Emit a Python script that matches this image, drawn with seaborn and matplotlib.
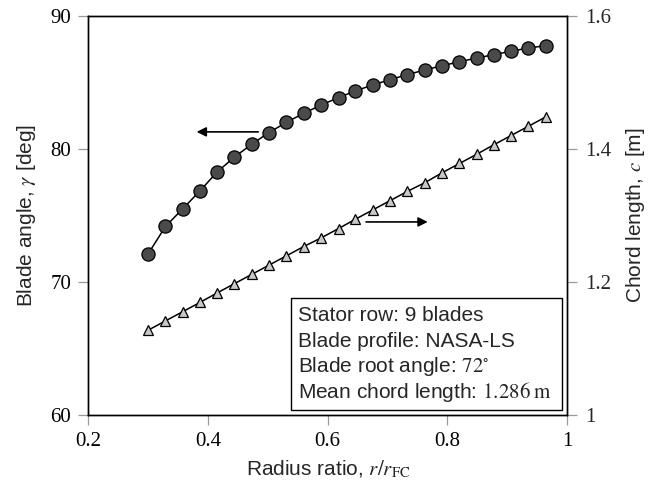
import matplotlib
matplotlib.use("Agg")
import matplotlib.pyplot as plt
from matplotlib.patches import Rectangle
import seaborn as sns
import numpy as np
import pandas as pd

# Radial stations along the stator blade
radius_ratio = [0.300, 0.329, 0.358, 0.387, 0.415, 0.444, 0.473, 0.502,
                0.531, 0.560, 0.589, 0.618, 0.646, 0.675, 0.704, 0.733,
                0.762, 0.791, 0.820, 0.849, 0.877, 0.906, 0.935, 0.964]

# Blade angle [deg]
blade_angle = [72.1, 74.16, 75.5, 76.86, 78.25, 79.38, 80.35, 81.23,
               82.0, 82.68, 83.3, 83.86, 84.36, 84.81, 85.21, 85.59,
               85.94, 86.26, 86.56, 86.84, 87.09, 87.35, 87.59, 87.77]

# Chord length [m]
chord_length = [1.127, 1.141, 1.155, 1.169, 1.183, 1.197, 1.211, 1.225,
                1.239, 1.253, 1.266, 1.280, 1.294, 1.308, 1.322, 1.336,
                1.349, 1.364, 1.378, 1.392, 1.406, 1.420, 1.434, 1.448]

x_ticks = [0.2, 0.4, 0.6, 0.8, 1.0]
x_ticklabels = ["0.2", "0.4", "0.6", "0.8", "1"]
angle_ticks = [60, 70, 80, 90]
angle_ticklabels = ["60", "70", "80", "90"]
chord_ticks = [1.0, 1.2, 1.4, 1.6]
chord_ticklabels = ["1", "1.2", "1.4", "1.6"]

info_lines = [
    "Stator row: 9 blades",
    "Blade profile: NASA-LS",
    r"Blade root angle: $72^{\circ}$",
    r"Mean chord length: $1.286\;\mathrm{m}$",
]

df = pd.DataFrame({"r": radius_ratio, "gamma": blade_angle, "c": chord_length})

sns.set_theme(style="white")
plt.rcParams["font.family"] = ["Liberation Sans", "DejaVu Sans"]
plt.rcParams["mathtext.fontset"] = "stix"

fig = plt.figure(figsize=(6.49, 4.86), dpi=100)
ax = fig.add_axes([0.136, 0.147, 0.738, 0.820])
ax2 = ax.twinx()

fs = 15
tick_gray = "#9a9a9a"

sns.lineplot(data=df, x="r", y="gamma", ax=ax, color="black", linewidth=1.1,
             marker="o", markersize=9.5, markerfacecolor="#4a4a4a",
             markeredgecolor="black", markeredgewidth=0.9)
sns.lineplot(data=df, x="r", y="c", ax=ax2, color="black", linewidth=1.1,
             marker="^", markersize=7, markerfacecolor="#c8c8c8",
             markeredgecolor="black", markeredgewidth=0.9)

ax.set_xlim(0.2, 1.0)
ax.set_ylim(60, 90)
ax2.set_ylim(1.0, 1.6)

ax.set_xticks(x_ticks)
ax.set_xticklabels(x_ticklabels)
ax.set_yticks(angle_ticks)
ax.set_yticklabels(angle_ticklabels)
ax2.set_yticks(chord_ticks)
ax2.set_yticklabels(chord_ticklabels)

for a in (ax, ax2):
    for lab in a.get_xticklabels() + a.get_yticklabels():
        lab.set_fontfamily("Liberation Serif")
        lab.set_fontsize(fs)
    for s in a.spines.values():
        s.set_color("black")
        s.set_linewidth(1.0)
    a.grid(False)

ax.tick_params(axis="both", direction="out", length=7.2, width=0.9,
               color=tick_gray, labelcolor="black")
ax.tick_params(axis="y", left=True, right=False, pad=5)
ax.tick_params(axis="x", bottom=True, top=False, pad=5)
ax2.tick_params(axis="y", direction="out", length=7.2, width=0.9,
                color=tick_gray, pad=6, right=True, left=False)

ax.set_xlabel(r"Radius ratio, $r/r_{\mathrm{FC}}$", fontsize=fs, labelpad=6)
ax.set_ylabel(r"Blade angle, $\gamma$ [deg]", fontsize=fs, labelpad=9)
ax2.set_ylabel(r"Chord length, $c$ [m]", fontsize=fs, labelpad=9)

# Arrows pointing to the axis each curve belongs to
ax.annotate("", xy=(0.381, 81.28), xytext=(0.484, 81.28),
            arrowprops=dict(arrowstyle="-|>", color="black", lw=1.2,
                            mutation_scale=14, shrinkA=0, shrinkB=0))
ax2.annotate("", xy=(0.767, 1.290), xytext=(0.664, 1.290),
             arrowprops=dict(arrowstyle="-|>", color="black", lw=1.2,
                             mutation_scale=14, shrinkA=0, shrinkB=0))

# Info box: framed panel with evenly spaced lines
box = Rectangle((0.423, 0.011), 0.566, 0.282, transform=ax.transAxes,
                facecolor="white", edgecolor="black", linewidth=1.0,
                zorder=5)
ax2.add_patch(box)
baselines = [0.2354, 0.1706, 0.1059, 0.0412]
for line, yb in zip(info_lines, baselines):
    ax2.text(0.438, yb, line, transform=ax.transAxes, ha="left",
             va="baseline", fontsize=fs, zorder=6)

fig.savefig("out.png", dpi=100)
